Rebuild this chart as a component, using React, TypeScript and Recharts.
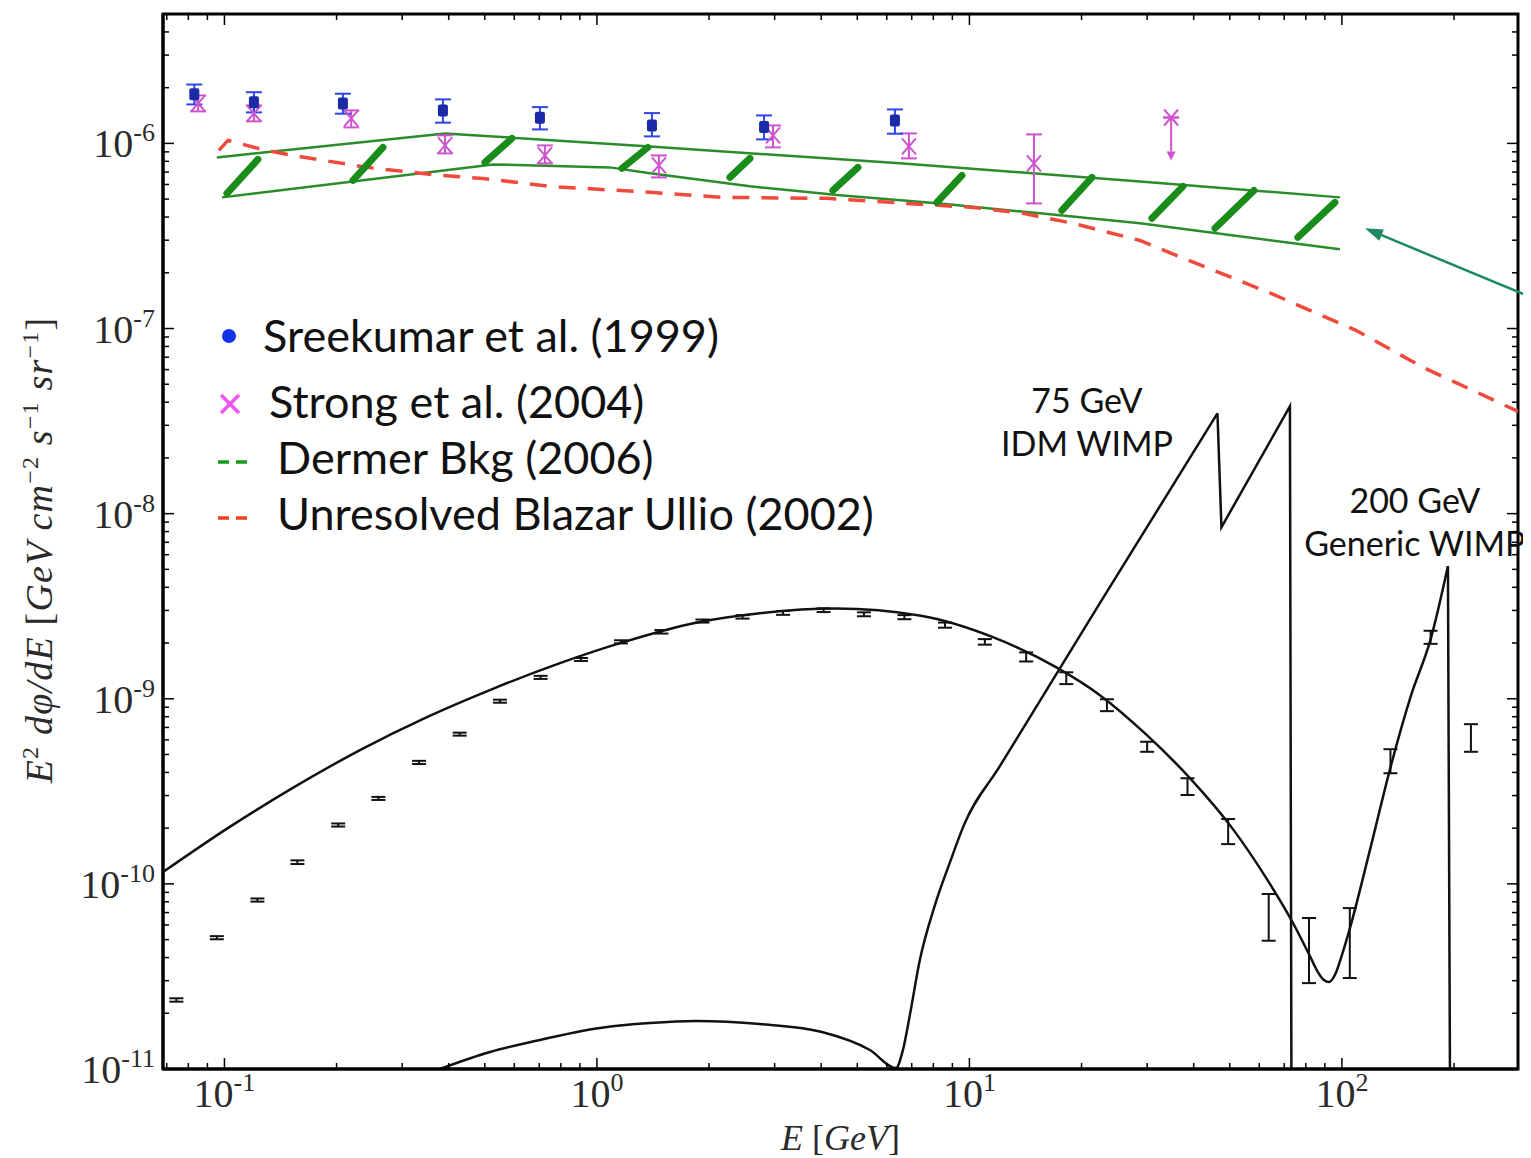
import React from 'react';
import {
  ComposedChart, Line, Scatter, XAxis, YAxis, ErrorBar, ReferenceLine, ReferenceArea, ReferenceDot, Legend,
} from 'recharts';

// ---------------- data ----------------
const X_MIN = 0.0684;
const X_MAX = 297;
const Y_MIN = 1e-11;
const Y_MAX = 5e-6;

const xMajorTicks = [0.1, 1, 10, 100];
const xMinorTicks = [0.07, 0.08, 0.09, 0.2, 0.3, 0.4, 0.5, 0.6, 0.7, 0.8, 0.9, 2, 3, 4, 5, 6, 7, 8, 9, 20, 30, 40, 50, 60, 70, 80, 90, 200];
const yMajorTicks = [1e-11, 1e-10, 1e-9, 1e-8, 1e-7, 1e-6];
const yMinorTicks = [
  2e-11, 3e-11, 4e-11, 5e-11, 6e-11, 7e-11, 8e-11, 9e-11,
  2e-10, 3e-10, 4e-10, 5e-10, 6e-10, 7e-10, 8e-10, 9e-10,
  2e-9, 3e-9, 4e-9, 5e-9, 6e-9, 7e-9, 8e-9, 9e-9,
  2e-8, 3e-8, 4e-8, 5e-8, 6e-8, 7e-8, 8e-8, 9e-8,
  2e-7, 3e-7, 4e-7, 5e-7, 6e-7, 7e-7, 8e-7, 9e-7,
  2e-6, 3e-6, 4e-6,
];

// Sreekumar et al. (1999)
const sreekumarE = [0.083, 0.12, 0.208, 0.386, 0.703, 1.405, 2.81, 6.31];
const sreekumarFlux = [1.84e-6, 1.67e-6, 1.64e-6, 1.507e-6, 1.377e-6, 1.25e-6, 1.225e-6, 1.331e-6];
const sreekumarLo = [1.624e-6, 1.47e-6, 1.447e-6, 1.294e-6, 1.19e-6, 1.091e-6, 1.051e-6, 1.128e-6];
const sreekumarHi = [2.08e-6, 1.89e-6, 1.855e-6, 1.729e-6, 1.57e-6, 1.458e-6, 1.416e-6, 1.526e-6];

// Strong et al. (2004)
const strongE = [0.085, 0.12, 0.219, 0.391, 0.725, 1.467, 2.97, 6.88, 14.9, 34.8];
const strongFlux = [1.644e-6, 1.452e-6, 1.365e-6, 9.75e-7, 8.61e-7, 7.61e-7, 1.105e-6, 9.63e-7, 7.8e-7, 1.38e-6];
const strongLo = [1.489e-6, 1.315e-6, 1.22e-6, 8.83e-7, 7.8e-7, 6.55e-7, 9.52e-7, 8.3e-7, 4.74e-7, 1.38e-6];
const strongHi = [1.816e-6, 1.604e-6, 1.507e-6, 1.105e-6, 9.75e-7, 8.61e-7, 1.25e-6, 1.132e-6, 1.118e-6, 1.38e-6];
const strongLimitE = 34.8;
const strongLimitFrom = 1.38e-6;
const strongLimitTo = 8.09e-7;

// simulated data points (black)
const simE = [0.0743, 0.0954, 0.1226, 0.157, 0.202, 0.259, 0.333, 0.428, 0.549, 0.706, 0.906, 1.16, 1.49, 1.92, 2.46, 3.16, 4.06, 5.21, 6.69, 8.6, 11.0, 14.2, 18.2, 23.4, 30.0, 38.5, 49.5, 63.6, 81.6, 105, 135, 173, 222];
const simFlux = [2.36e-11, 5.12e-11, 8.18e-11, 1.31e-10, 2.08e-10, 2.89e-10, 4.53e-10, 6.44e-10, 9.7e-10, 1.3e-9, 1.63e-9, 2.03e-9, 2.3e-9, 2.63e-9, 2.77e-9, 2.91e-9, 3.01e-9, 2.86e-9, 2.76e-9, 2.5e-9, 2.03e-9, 1.68e-9, 1.29e-9, 9.23e-10, 5.55e-10, 3.34e-10, 1.91e-10, 6.65e-11, 4.39e-11, 4.79e-11, 4.6e-10, 2.15e-9, 6.23e-10];
const simLo = [2.31e-11, 5.02e-11, 8.02e-11, 1.28e-10, 2.04e-10, 2.84e-10, 4.44e-10, 6.32e-10, 9.52e-10, 1.28e-9, 1.6e-9, 1.99e-9, 2.25e-9, 2.58e-9, 2.71e-9, 2.84e-9, 2.94e-9, 2.79e-9, 2.69e-9, 2.42e-9, 1.96e-9, 1.59e-9, 1.2e-9, 8.57e-10, 5.17e-10, 3.02e-10, 1.64e-10, 4.93e-11, 2.91e-11, 3.1e-11, 3.96e-10, 1.98e-9, 5.17e-10];
const simHi = [2.41e-11, 5.22e-11, 8.34e-11, 1.34e-10, 2.12e-10, 2.95e-10, 4.62e-10, 6.56e-10, 9.89e-10, 1.33e-9, 1.66e-9, 2.07e-9, 2.35e-9, 2.68e-9, 2.83e-9, 2.98e-9, 3.08e-9, 2.93e-9, 2.83e-9, 2.58e-9, 2.1e-9, 1.78e-9, 1.39e-9, 9.94e-10, 5.86e-10, 3.72e-10, 2.24e-10, 8.82e-11, 6.54e-11, 7.4e-11, 5.34e-10, 2.33e-9, 7.29e-10];

// background + 200 GeV generic WIMP curve
const bkgE = [0.0684, 0.1016, 0.153, 0.2311, 0.3496, 0.5257, 0.7957, 1.153, 1.844, 2.739, 4.381, 7.409, 11.56, 17.17, 22.4, 29.96, 39.08, 50.98, 62.91, 73.42, 82.06, 86.2, 89.45, 92.27, 95.76, 100.0, 105.1, 118.9, 135.3, 153.1, 173.4, 192.6];
const bkgF = [1.158e-10, 1.988e-10, 3.311e-10, 5.28e-10, 7.96e-10, 1.132e-9, 1.557e-9, 1.997e-9, 2.576e-9, 2.898e-9, 3.069e-9, 2.806e-9, 2.151e-9, 1.472e-9, 1.046e-9, 6.36e-10, 3.726e-10, 1.976e-10, 1.061e-10, 6.3e-11, 4.075e-11, 3.34e-11, 3.024e-11, 2.95e-11, 3.218e-11, 4.125e-11, 5.77e-11, 1.522e-10, 4.325e-10, 1.033e-9, 2.124e-9, 5.2e-9];
const wimp200DropE = [192.6, 195.0];
const wimp200DropF = [5.2e-9, 1e-11];

// 75 GeV IDM WIMP curve
const idmE = [0.379, 0.5161, 0.6818, 1.019, 1.388, 1.844, 2.739, 4.018, 5.406, 6.35, 6.63, 6.92, 7.36, 8.08, 8.87, 9.665, 12.07, 22.4, 46.33];
const idmF = [1e-11, 1.235e-11, 1.416e-11, 1.665e-11, 1.771e-11, 1.816e-11, 1.75e-11, 1.585e-11, 1.266e-11, 1.012e-11, 1.266e-11, 1.956e-11, 3.877e-11, 7.68e-11, 1.311e-10, 2.077e-10, 4.325e-10, 3.282e-9, 3.484e-8];
const idmSawE = [46.33, 47.49, 72.52, 73.18];
const idmSawF = [3.484e-8, 8.44e-9, 3.8e-8, 1e-11];

// Unresolved blazar, Ullio (2002)
const ullioE = [0.0966, 0.1022, 0.1261, 0.1527, 0.2414, 0.379, 0.4943, 0.7478, 1.388, 2.179, 4.143, 6.796, 10.22, 13.92, 18.96, 28.69, 34.32, 64.48, 109.0, 165.0, 296.9];
const ullioF = [9.17e-7, 1.038e-6, 9.28e-7, 8.61e-7, 7.42e-7, 6.72e-7, 6.47e-7, 5.86e-7, 5.44e-7, 5.11e-7, 5.05e-7, 4.74e-7, 4.51e-7, 4.19e-7, 3.7e-7, 2.99e-7, 2.58e-7, 1.549e-7, 9.78e-8, 6.17e-8, 3.57e-8];

// Dermer background band (2006)
const dermerUpperE = [0.0954, 0.391, 1.388, 6.508, 28.69, 98.76];
const dermerUpperF = [8.4e-7, 1.132e-6, 9.63e-7, 7.8e-7, 6.23e-7, 5.11e-7];
const dermerLowerE = [0.0985, 0.5257, 1.084, 1.388, 2.575, 4.49, 8.33, 15.46, 28.69, 98.76];
const dermerLowerF = [5.11e-7, 7.7e-7, 7.42e-7, 6.89e-7, 5.86e-7, 5.24e-7, 4.74e-7, 4.19e-7, 3.7e-7, 2.68e-7];
// hatch strokes: [E1, F1, E2, F2]
const dermerHatch = [
  [0.1016, 5.37e-7, 0.123, 8.2e-7],
  [0.2213, 6.31e-7, 0.2664, 9.52e-7],
  [0.5004, 7.9e-7, 0.5912, 1.064e-6],
  [1.167, 7.33e-7, 1.37, 9.52e-7],
  [2.275, 6.55e-7, 2.575, 8.3e-7],
  [4.301, 5.57e-7, 5.02, 7.42e-7],
  [8.18, 4.8e-7, 9.55, 6.72e-7],
  [17.71, 4.35e-7, 21.33, 6.55e-7],
  [30.9, 3.94e-7, 37.43, 5.86e-7],
  [45.62, 3.48e-7, 58.05, 5.57e-7],
  [76.18, 3.11e-7, 95.76, 4.8e-7],
];

// annotation arrow (tail -> tip)
const arrowFrom = { x: 318, y: 1.49e-7 };
const arrowTo = { x: 115.3, y: 3.48e-7 };

// annotations
const annotations = [
  { x: 20.68, y: 3.484e-8, l1: '75 GeV', l2: 'IDM WIMP' },
  { x: 157.0, y: 1.005e-8, l1: '200 GeV', l2: 'Generic WIMP' },
];

const legendLabels = ['Sreekumar et al. (1999)', 'Strong et al. (2004)', 'Dermer Bkg (2006)', 'Unresolved Blazar Ullio (2002)'];

// ---------------- layout / style ----------------
const W = 1523;
const H = 1150;
const MARGIN = { top: 6, right: 13, bottom: 0, left: 0 };
const Y_AXIS_W = 155;
const X_AXIS_H = 89;
const PLOT_W = W - MARGIN.left - MARGIN.right - Y_AXIS_W;
const PLOT_H = H - MARGIN.top - MARGIN.bottom - X_AXIS_H;

const BLUE_MARK = '#1b2aa6';
const BLUE_ERR = '#3045e8';
const MAGENTA = '#cf52cf';
const GREEN = '#2a8c2a';
const GREEN_HATCH = '#1a8c1a';
const RED = '#f04a3c';
const ARROW = '#1b8a5e';
const SANS = 'Lato, "Open Sans", sans-serif';
const SERIF = '"Liberation Serif", "DejaVu Serif", serif';

const xy = (E: number[], F: number[]) => E.map((e, i) => ({ x: e, y: F[i] }));
const withErr = (E: number[], F: number[], lo: number[], hi: number[]) =>
  E.map((e, i) => ({ x: e, y: F[i], err: [F[i] - lo[i], hi[i] - F[i]] }));

const sreekumarData = withErr(sreekumarE, sreekumarFlux, sreekumarLo, sreekumarHi);
const strongData = withErr(strongE, strongFlux, strongLo, strongHi);
const simData = withErr(simE, simFlux, simLo, simHi);

const X_TICKS = [...xMinorTicks, ...xMajorTicks].sort((a, b) => a - b);
const Y_TICKS = [...yMinorTicks, ...yMajorTicks].sort((a, b) => a - b);

const isMajor = (v: number) => {
  const l = Math.log10(v);
  return Math.abs(l - Math.round(l)) < 1e-6;
};

const XTick = (props: any) => {
  const { x, y, payload } = props;
  const v = payload.value;
  const major = isMajor(v);
  const len = major ? 11 : 6;
  const exp = Math.round(Math.log10(v));
  return (
    <g>
      <line x1={x} y1={y} x2={x} y2={y - len} stroke="#000" strokeWidth={1.5} />
      <line x1={x} y1={y - PLOT_H} x2={x} y2={y - PLOT_H + len} stroke="#000" strokeWidth={1.5} />
      {major && (
        <text x={x} y={y + 38} textAnchor="middle" fontFamily={SERIF} fontSize={40} fill="#2a2a2a">
          10<tspan dy={-16} fontSize={26}>{exp < 0 ? '-' + Math.abs(exp) : String(exp)}</tspan>
        </text>
      )}
    </g>
  );
};

const YTick = (props: any) => {
  const { x, y, payload } = props;
  const v = payload.value;
  const major = isMajor(v);
  const len = major ? 11 : 6;
  const exp = Math.round(Math.log10(v));
  return (
    <g>
      <line x1={x} y1={y} x2={x + len} y2={y} stroke="#000" strokeWidth={1.5} />
      <line x1={x + PLOT_W} y1={y} x2={x + PLOT_W - len} y2={y} stroke="#000" strokeWidth={1.5} />
      {major && (
        <text x={x - 8} y={y + 14} textAnchor="end" fontFamily={SERIF} fontSize={40} fill="#2a2a2a">
          10<tspan dy={-16} fontSize={26}>{'-' + Math.abs(exp)}</tspan>
        </text>
      )}
    </g>
  );
};

const YTitle = () => {
  const cx = 44;
  const cy = 542;
  return (
    <text transform={`rotate(-90, ${cx}, ${cy})`} x={cx} y={cy} textAnchor="middle" fontFamily={SERIF} fontStyle="italic" fontSize={38} letterSpacing={1.2} fill="#2a2a2a">
      E<tspan dy={-14} fontSize={24} fontStyle="normal">2</tspan>
      <tspan dy={14}> dφ/dE </tspan>
      <tspan fontStyle="normal">[</tspan>
      <tspan>GeV cm</tspan>
      <tspan dy={-14} fontSize={24} fontStyle="normal">−2</tspan>
      <tspan dy={14}> s</tspan>
      <tspan dy={-14} fontSize={24} fontStyle="normal">−1</tspan>
      <tspan dy={14}> sr</tspan>
      <tspan dy={-14} fontSize={24} fontStyle="normal">−1</tspan>
      <tspan dy={14} fontStyle="normal">]</tspan>
    </text>
  );
};

const XTitle = () => (
  <text x={MARGIN.left + Y_AXIS_W + PLOT_W / 2} y={1142} textAnchor="middle" fontFamily={SERIF} fontStyle="italic" fontSize={36} fill="#2a2a2a">
    E<tspan fontStyle="normal"> [</tspan>GeV<tspan fontStyle="normal">]</tspan>
  </text>
);

const SreekumarShape = (p: any) => (
  <rect x={p.cx - 5} y={p.cy - 6} width={10} height={12} rx={2} fill={BLUE_MARK} />
);

const StrongShape = (p: any) => (
  <g stroke={MAGENTA} strokeWidth={2}>
    <line x1={p.cx - 7} y1={p.cy - 8} x2={p.cx + 7} y2={p.cy + 8} />
    <line x1={p.cx - 7} y1={p.cy + 8} x2={p.cx + 7} y2={p.cy - 8} />
  </g>
);

const EmptyShape = () => <g />;

const makeAnno = (l1: string, l2: string) => (p: any) => (
  <g>
    <text x={p.cx} y={p.cy} textAnchor="middle" fontFamily={SANS} fontSize={34} fill="#111">{l1}</text>
    <text x={p.cx} y={p.cy + 43} textAnchor="middle" fontFamily={SANS} fontSize={34} fill="#111">{l2}</text>
  </g>
);

const HatchShape = (p: any) => (
  <line x1={p.x1} y1={p.y1} x2={p.x2} y2={p.y2} stroke={GREEN_HATCH} strokeWidth={7} strokeLinecap="round" />
);

const makeArrow = (color: string, width: number, headL: number, headW: number) => (p: any) => {
  const { x1, y1, x2, y2 } = p;
  const ang = Math.atan2(y2 - y1, x2 - x1);
  const bx = x2 - headL * Math.cos(ang);
  const by = y2 - headL * Math.sin(ang);
  const px = -Math.sin(ang) * headW;
  const py = Math.cos(ang) * headW;
  return (
    <g>
      <line x1={x1} y1={y1} x2={bx} y2={by} stroke={color} strokeWidth={width} />
      <polygon points={`${x2},${y2} ${bx + px},${by + py} ${bx - px},${by - py}`} fill={color} />
    </g>
  );
};
const GreenArrow = makeArrow(ARROW, 2.5, 18, 6);
const LimitArrow = makeArrow(MAGENTA, 2, 9, 4.5);

const LegendBox = () => (
  <svg width={700} height={250} style={{ display: 'block', overflow: 'visible' }}>
    <circle cx={16} cy={28} r={7} fill="#1133ee" />
    <text x={50} y={44} fontFamily={SANS} fontSize={45} fill="#111">{legendLabels[0]}</text>
    <g stroke="#f055f0" strokeWidth={3.5}>
      <line x1={8} y1={87} x2={26} y2={105} />
      <line x1={8} y1={105} x2={26} y2={87} />
    </g>
    <text x={56} y={110} fontFamily={SANS} fontSize={45} fill="#111">{legendLabels[1]}</text>
    <g stroke="#1a9a1a" strokeWidth={3.5}>
      <line x1={5} y1={154} x2={16} y2={154} />
      <line x1={23} y1={154} x2={34} y2={154} />
    </g>
    <text x={64} y={166} fontFamily={SANS} fontSize={45} fill="#111">{legendLabels[2]}</text>
    <g stroke="#f0401e" strokeWidth={3.5}>
      <line x1={5} y1={210} x2={16} y2={210} />
      <line x1={23} y1={210} x2={34} y2={210} />
    </g>
    <text x={64} y={222} fontFamily={SANS} fontSize={45} fill="#111">{legendLabels[3]}</text>
  </svg>
);

export default function App() {
  return (
    <div style={{ width: W, height: H, background: '#fff' }}>
      <ComposedChart width={W} height={H} margin={MARGIN}>
        <XAxis
          dataKey="x" type="number" scale="log" domain={[X_MIN, X_MAX]} allowDataOverflow
          ticks={X_TICKS} interval={0} tick={XTick} tickLine={false} tickSize={0} tickMargin={0}
          height={X_AXIS_H} axisLine={{ stroke: '#000', strokeWidth: 3 }}
          label={{ content: XTitle }}
        />
        <YAxis
          dataKey="y" type="number" scale="log" domain={[Y_MIN, Y_MAX]} allowDataOverflow
          ticks={Y_TICKS} interval={0} tick={YTick} tickLine={false} tickSize={0} tickMargin={0}
          width={Y_AXIS_W} axisLine={{ stroke: '#000', strokeWidth: 3 }}
          label={{ content: YTitle }}
        />
        <ReferenceArea x1={X_MIN} x2={X_MAX} y1={Y_MIN} y2={Y_MAX} fill="none" fillOpacity={0} stroke="#000" strokeWidth={3} ifOverflow="visible" />

        <Line data={xy(dermerUpperE, dermerUpperF)} dataKey="y" type="linear" stroke={GREEN} strokeWidth={2.5} dot={false} activeDot={false} isAnimationActive={false} />
        <Line data={xy(dermerLowerE, dermerLowerF)} dataKey="y" type="linear" stroke={GREEN} strokeWidth={2.5} dot={false} activeDot={false} isAnimationActive={false} />
        <Line data={xy(ullioE, ullioF)} dataKey="y" type="linear" stroke={RED} strokeWidth={3.5} strokeDasharray="17 12" dot={false} activeDot={false} isAnimationActive={false} />
        <Line data={xy(bkgE, bkgF)} dataKey="y" type="monotoneX" stroke="#111" strokeWidth={2.5} dot={false} activeDot={false} isAnimationActive={false} />
        <Line data={xy(wimp200DropE, wimp200DropF)} dataKey="y" type="linear" stroke="#111" strokeWidth={2.5} dot={false} activeDot={false} isAnimationActive={false} />
        <Line data={xy(idmE, idmF)} dataKey="y" type="monotoneX" stroke="#111" strokeWidth={2.5} dot={false} activeDot={false} isAnimationActive={false} />
        <Line data={xy(idmSawE, idmSawF)} dataKey="y" type="linear" stroke="#111" strokeWidth={2.5} dot={false} activeDot={false} isAnimationActive={false} />

        {dermerHatch.map((h, i) => (
          <ReferenceLine key={'h' + i} segment={[{ x: h[0], y: h[1] }, { x: h[2], y: h[3] }]} shape={HatchShape} ifOverflow="visible" />
        ))}
        <ReferenceLine segment={[{ x: strongLimitE, y: strongLimitFrom }, { x: strongLimitE, y: strongLimitTo }]} shape={LimitArrow} ifOverflow="visible" />
        <ReferenceLine segment={[arrowFrom, arrowTo]} shape={GreenArrow} ifOverflow="visible" />

        <Scatter data={simData} dataKey="y" shape={EmptyShape} isAnimationActive={false}>
          <ErrorBar dataKey="err" direction="y" width={7} stroke="#111" strokeWidth={2} />
        </Scatter>
        <Scatter data={strongData} dataKey="y" shape={StrongShape} isAnimationActive={false}>
          <ErrorBar dataKey="err" direction="y" width={8} stroke={MAGENTA} strokeWidth={2} />
        </Scatter>
        <Scatter data={sreekumarData} dataKey="y" shape={SreekumarShape} isAnimationActive={false}>
          <ErrorBar dataKey="err" direction="y" width={8} stroke={BLUE_ERR} strokeWidth={2} />
        </Scatter>

        {annotations.map((a, i) => (
          <ReferenceDot key={'a' + i} x={a.x} y={a.y} r={1} ifOverflow="visible" shape={makeAnno(a.l1, a.l2)} />
        ))}

        <Legend
          layout="vertical" align="center" verticalAlign="middle"
          wrapperStyle={{ left: 205, top: 300, width: 700, height: 250 }}
          content={LegendBox}
        />
      </ComposedChart>
    </div>
  );
}
